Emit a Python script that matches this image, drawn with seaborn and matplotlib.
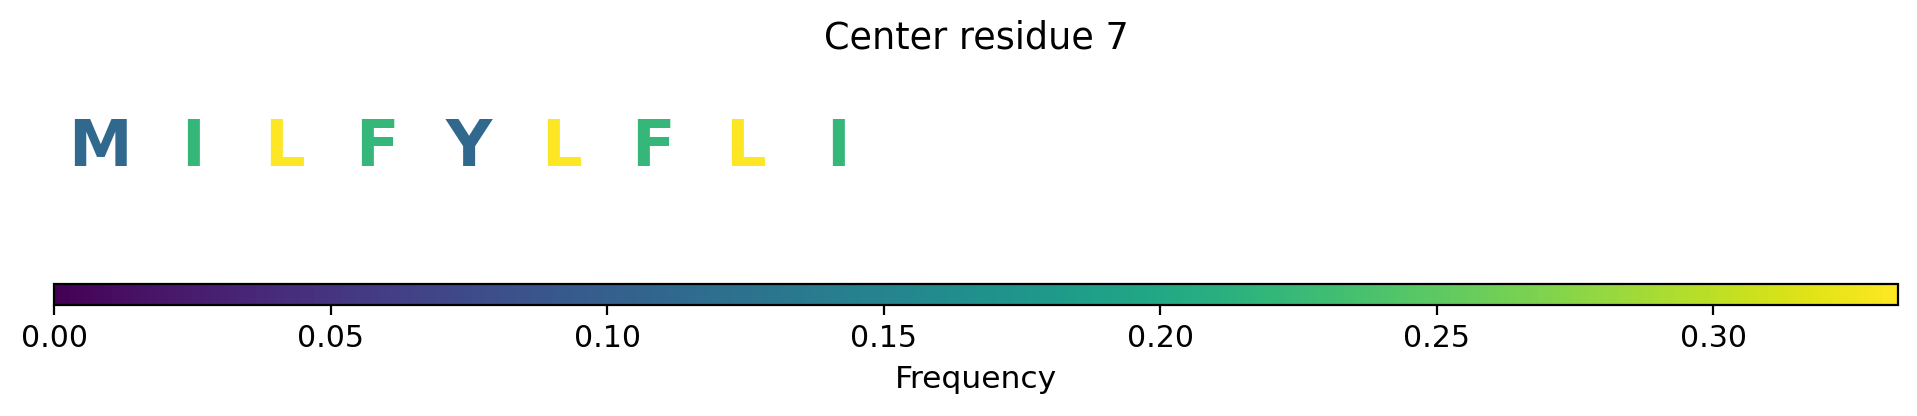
import numpy as np
import seaborn as sns
import matplotlib.pyplot as plt
import matplotlib as mpl
from collections import Counter

# residues seen at the window around center residue 7
residues = ['M', 'I', 'L', 'F', 'Y', 'L', 'F', 'L', 'I']
window_len = 20
title = 'Center residue 7'

counts = Counter(residues)
freqs = np.array([counts[r] / len(residues) for r in residues])

cmap = sns.color_palette('viridis', as_cmap=True)
norm = mpl.colors.Normalize(vmin=0, vmax=freqs.max())

fig = plt.figure(figsize=(9.585, 2.08), dpi=200)
ax = fig.add_axes([0.0283, 0.40, 0.9617, 0.444])
cax = fig.add_axes([0.0283, 0.2668, 0.9617, 0.0498])

for i, (res, f) in enumerate(zip(residues, freqs)):
    ax.text(i + 0.5, 0.45, res, ha='center', va='baseline', fontsize=23,
            fontweight='bold', color=cmap(norm(f)))
ax.set_xlim(0, window_len)
ax.set_ylim(0, 1)
ax.axis('off')
ax.set_title(title, fontsize=13.2)

sm = mpl.cm.ScalarMappable(norm=norm, cmap=cmap)
cb = fig.colorbar(sm, cax=cax, orientation='horizontal')
cb.set_label('Frequency', fontsize=11.3)
cb.ax.tick_params(labelsize=10.8)

fig.savefig('out.png', dpi=200)
